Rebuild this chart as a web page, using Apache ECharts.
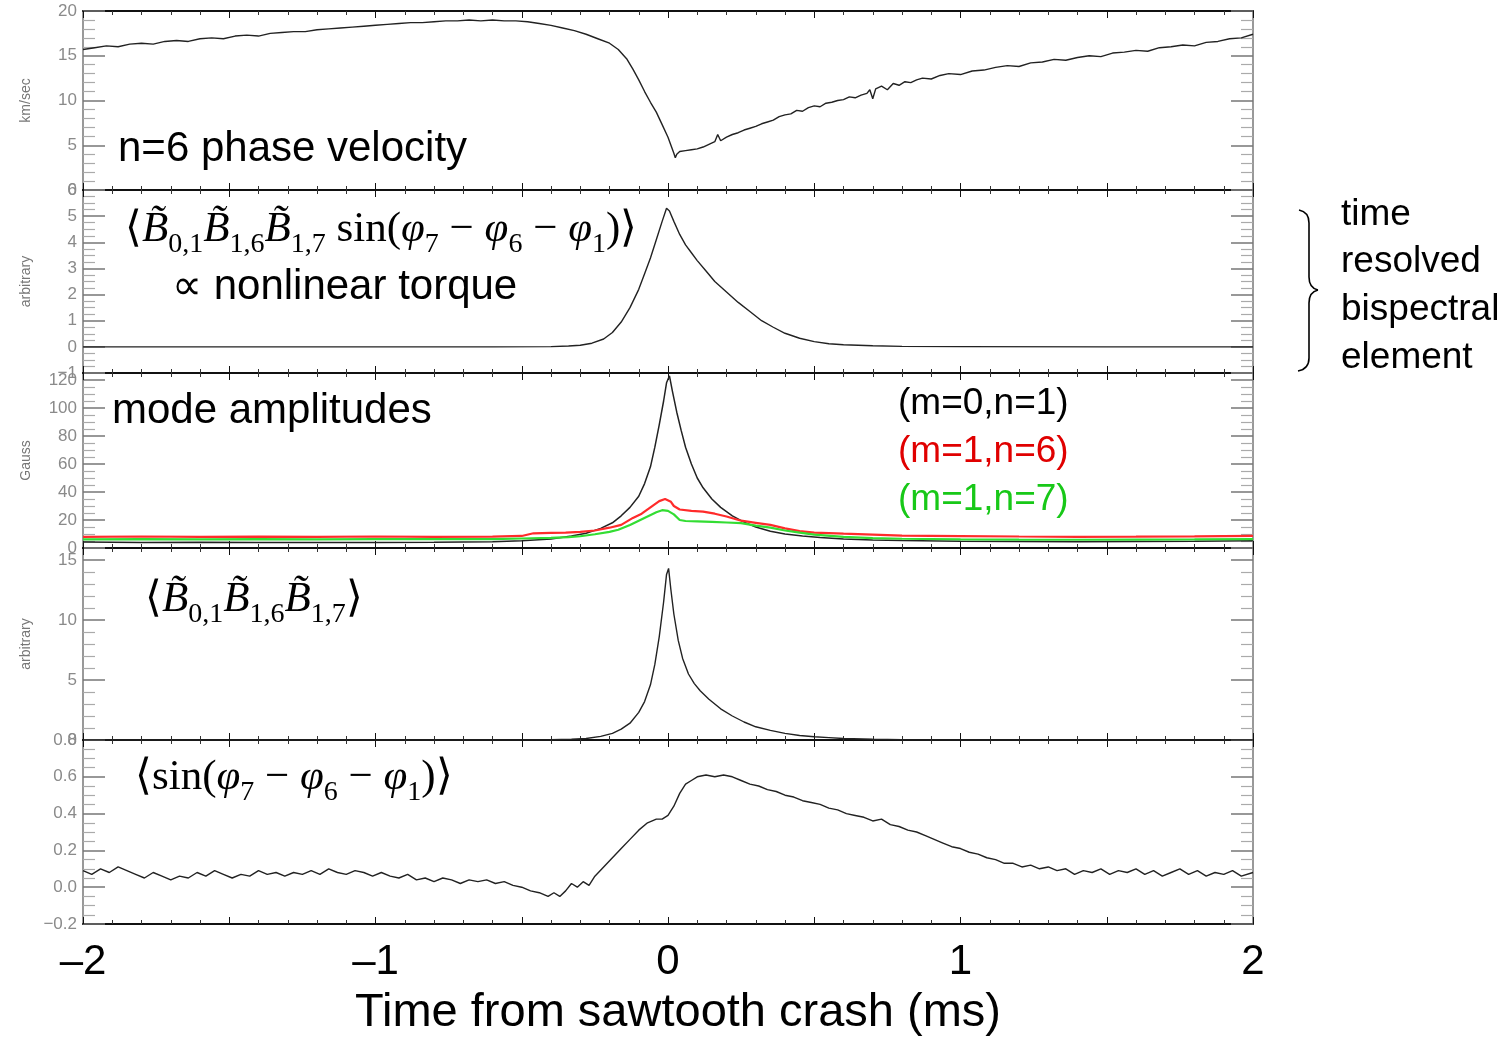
<!DOCTYPE html>
<html>
<head>
<meta charset="utf-8">
<script src="https://cdn.jsdelivr.net/npm/echarts@6/dist/echarts.min.js"></script>
<style>
  html, body { margin: 0; padding: 0; background: #fff; }
  #chart { width: 1511px; height: 1038px; }
</style>
</head>
<body>
<div id="chart"></div>
<script>
// ---- Measured traces, [time (ms), value] ----

// n=6 phase velocity (km/sec)
const phaseVelocity = [
  [-2.00,15.7],[-1.96,15.9],[-1.92,16.1],[-1.88,16.0],[-1.84,16.3],[-1.80,16.4],[-1.76,16.3],[-1.72,16.6],
  [-1.68,16.7],[-1.64,16.6],[-1.60,16.9],[-1.56,17.0],[-1.52,16.9],[-1.48,17.2],[-1.44,17.3],[-1.40,17.2],
  [-1.36,17.5],[-1.32,17.6],[-1.28,17.7],[-1.24,17.7],[-1.20,17.9],[-1.16,18.0],[-1.12,18.1],[-1.08,18.2],
  [-1.04,18.3],[-1.00,18.4],[-0.96,18.5],[-0.92,18.6],[-0.88,18.7],[-0.84,18.7],[-0.80,18.8],[-0.76,18.9],
  [-0.72,18.9],[-0.68,19.0],[-0.64,18.9],[-0.60,19.0],[-0.56,18.9],[-0.52,18.9],[-0.48,18.8],[-0.44,18.6],
  [-0.40,18.4],[-0.36,18.1],[-0.32,17.8],[-0.28,17.4],[-0.24,16.9],[-0.20,16.4],[-0.17,15.7],[-0.14,14.6],
  [-0.12,13.5],[-0.10,12.3],[-0.08,11.0],[-0.06,9.8],[-0.04,8.7],[-0.02,7.3],[0.00,5.9],[0.01,5.0],
  [0.02,4.1],[0.025,3.6],[0.03,4.0],[0.04,4.3],[0.06,4.4],[0.08,4.5],[0.10,4.6],[0.12,4.8],[0.14,5.1],
  [0.16,5.4],[0.17,6.2],[0.18,5.5],[0.20,5.9],[0.22,6.2],[0.24,6.4],[0.26,6.7],[0.28,6.9],[0.30,7.1],
  [0.32,7.4],[0.34,7.6],[0.36,7.8],[0.38,8.2],[0.40,8.4],[0.42,8.5],[0.44,8.9],[0.46,8.8],[0.48,9.2],
  [0.50,9.4],[0.52,9.3],[0.54,9.7],[0.56,9.8],[0.58,10.0],[0.60,10.1],[0.62,10.4],[0.64,10.3],[0.66,10.6],
  [0.68,10.8],[0.69,11.2],[0.70,10.2],[0.71,11.3],[0.73,11.6],[0.75,11.2],[0.77,11.9],[0.79,11.7],
  [0.81,12.1],[0.83,12.0],[0.85,12.3],[0.87,12.5],[0.90,12.4],[0.93,12.8],[0.96,13.0],[1.00,12.9],
  [1.04,13.3],[1.08,13.4],[1.12,13.7],[1.16,13.9],[1.20,13.8],[1.24,14.2],[1.28,14.3],[1.32,14.6],
  [1.36,14.5],[1.40,14.8],[1.44,15.0],[1.48,14.9],[1.52,15.3],[1.56,15.4],[1.60,15.6],[1.64,15.5],
  [1.68,15.9],[1.72,16.0],[1.76,16.2],[1.80,16.1],[1.84,16.5],[1.88,16.6],[1.92,16.9],[1.96,17.0],[2.00,17.4]
];

// <B01 B16 B17 sin(phi7 - phi6 - phi1)>, arbitrary units
const nonlinearTorque = [
  [-2.0,0.0],[-1.5,0.0],[-1.0,0.0],[-0.6,0.0],[-0.4,0.01],[-0.34,0.03],[-0.30,0.06],[-0.26,0.14],
  [-0.22,0.3],[-0.19,0.55],[-0.16,0.95],[-0.13,1.5],[-0.10,2.2],[-0.08,2.8],[-0.06,3.4],[-0.04,4.1],
  [-0.02,4.8],[-0.005,5.3],[0.005,5.2],[0.02,4.8],[0.04,4.3],[0.06,3.9],[0.08,3.6],[0.10,3.3],
  [0.13,2.9],[0.16,2.5],[0.20,2.1],[0.24,1.7],[0.28,1.35],[0.32,1.0],[0.36,0.75],[0.40,0.52],
  [0.45,0.33],[0.50,0.2],[0.55,0.12],[0.60,0.08],[0.70,0.04],[0.80,0.02],[1.0,0.01],[1.5,0.0],[2.0,0.0]
];

// mode amplitudes (Gauss)
const ampM0N1 = [
  [-2.0,4.2],[-1.8,4.0],[-1.6,4.1],[-1.4,3.9],[-1.2,4.0],[-1.0,4.0],[-0.8,4.1],[-0.6,4.5],[-0.5,5.2],
  [-0.4,6.5],[-0.33,8.5],[-0.28,10.5],[-0.23,14],[-0.19,18],[-0.16,23],[-0.13,29],[-0.10,37],[-0.08,46],
  [-0.06,58],[-0.045,72],[-0.03,88],[-0.015,105],[-0.005,118],[0.005,123],[0.015,112],[0.03,97],
  [0.045,84],[0.06,72],[0.08,60],[0.10,50],[0.12,43],[0.15,35],[0.18,29],[0.22,23],[0.26,18.5],
  [0.30,15],[0.35,12],[0.40,10],[0.46,8.5],[0.52,7.5],[0.6,6.5],[0.7,5.8],[0.8,5.3],[1.0,4.8],
  [1.2,4.6],[1.4,4.5],[1.6,4.6],[1.8,4.8],[2.0,5.2]
];
const ampM1N6 = [
  [-2.0,8.0],[-1.8,8.2],[-1.6,7.9],[-1.4,8.1],[-1.2,8.0],[-1.0,8.2],[-0.8,8.0],[-0.6,8.1],[-0.5,8.6],
  [-0.46,10.5],[-0.4,10.8],[-0.35,11.0],[-0.3,11.5],[-0.25,12.5],[-0.2,14.5],[-0.16,16.5],[-0.12,21.5],
  [-0.09,24.5],[-0.06,29],[-0.03,33.5],[-0.01,35],[0.01,33],[0.02,30],[0.04,27.5],[0.08,26.5],
  [0.12,26],[0.16,24.5],[0.2,22.5],[0.25,19.5],[0.3,18],[0.35,16.5],[0.4,14],[0.45,12],[0.5,11],
  [0.6,10.2],[0.7,9.5],[0.8,8.8],[1.0,8.5],[1.2,8.2],[1.4,8.0],[1.6,8.1],[1.8,8.3],[2.0,8.6]
];
const ampM1N7 = [
  [-2.0,6.2],[-1.8,6.4],[-1.6,6.1],[-1.4,6.3],[-1.2,6.2],[-1.0,6.4],[-0.8,6.3],[-0.6,6.4],[-0.5,6.8],
  [-0.4,7.2],[-0.34,7.8],[-0.3,8.4],[-0.25,9.8],[-0.2,11.5],[-0.17,13],[-0.13,16.5],[-0.1,19.5],
  [-0.07,22.5],[-0.04,25.5],[-0.02,27],[0.0,26.5],[0.02,24],[0.04,20],[0.06,19.3],[0.1,19],[0.15,18.6],
  [0.2,18.2],[0.25,17.8],[0.3,16],[0.35,14.5],[0.4,12.5],[0.45,11],[0.5,9.5],[0.6,8],[0.7,7],[0.8,6.6],
  [1.0,6.2],[1.2,6.0],[1.4,5.9],[1.6,6.0],[1.8,6.1],[2.0,6.3]
];

// <B01 B16 B17>, arbitrary units
const tripleProduct = [
  [-2.0,0.0],[-1.0,0.0],[-0.5,0.0],[-0.4,0.02],[-0.33,0.06],[-0.28,0.12],[-0.23,0.3],[-0.19,0.55],
  [-0.16,0.9],[-0.13,1.4],[-0.10,2.3],[-0.08,3.2],[-0.06,4.6],[-0.045,6.3],[-0.03,8.6],[-0.015,11.5],
  [-0.005,13.8],[0.002,14.3],[0.01,12.5],[0.02,10.5],[0.035,8.3],[0.05,6.8],[0.07,5.5],[0.09,4.7],
  [0.11,4.1],[0.14,3.4],[0.18,2.6],[0.22,2.0],[0.26,1.5],[0.30,1.1],[0.35,0.8],[0.40,0.55],
  [0.45,0.38],[0.50,0.27],[0.55,0.2],[0.60,0.13],[0.70,0.06],[0.80,0.02],[1.0,0.0],[2.0,0.0]
];

// <sin(phi7 - phi6 - phi1)>
const sinPhase = [
  [-2.00,0.09],[-1.97,0.07],[-1.94,0.10],[-1.91,0.08],[-1.88,0.11],[-1.85,0.09],[-1.82,0.07],[-1.79,0.05],
  [-1.76,0.08],[-1.73,0.06],[-1.70,0.04],[-1.67,0.06],[-1.64,0.05],[-1.61,0.08],[-1.58,0.06],[-1.55,0.09],
  [-1.52,0.07],[-1.49,0.05],[-1.46,0.07],[-1.43,0.06],[-1.40,0.09],[-1.37,0.07],[-1.34,0.08],[-1.31,0.06],
  [-1.28,0.08],[-1.25,0.07],[-1.22,0.09],[-1.19,0.07],[-1.16,0.10],[-1.13,0.08],[-1.10,0.07],[-1.07,0.09],
  [-1.04,0.08],[-1.01,0.06],[-0.98,0.08],[-0.95,0.06],[-0.92,0.05],[-0.89,0.07],[-0.86,0.04],[-0.83,0.05],
  [-0.80,0.03],[-0.77,0.05],[-0.74,0.04],[-0.71,0.02],[-0.68,0.04],[-0.65,0.03],[-0.62,0.04],[-0.59,0.02],
  [-0.56,0.03],[-0.53,0.01],[-0.50,0.0],[-0.47,-0.02],[-0.44,-0.03],[-0.41,-0.05],[-0.39,-0.03],[-0.37,-0.05],
  [-0.35,-0.02],[-0.33,0.02],[-0.31,0.0],[-0.29,0.03],[-0.27,0.01],[-0.25,0.06],[-0.22,0.11],[-0.19,0.16],
  [-0.16,0.21],[-0.13,0.26],[-0.10,0.31],[-0.07,0.35],[-0.04,0.37],[-0.02,0.37],[0.00,0.39],[0.02,0.44],
  [0.04,0.51],[0.06,0.56],[0.08,0.58],[0.10,0.60],[0.13,0.61],[0.16,0.60],[0.19,0.61],[0.22,0.60],
  [0.25,0.58],[0.28,0.56],[0.31,0.55],[0.34,0.53],[0.37,0.52],[0.40,0.50],[0.43,0.49],[0.46,0.47],
  [0.49,0.46],[0.52,0.45],[0.55,0.43],[0.58,0.42],[0.61,0.40],[0.64,0.39],[0.67,0.38],[0.70,0.36],
  [0.73,0.37],[0.76,0.34],[0.79,0.33],[0.82,0.31],[0.85,0.30],[0.88,0.28],[0.91,0.26],[0.94,0.24],
  [0.97,0.22],[1.00,0.21],[1.03,0.19],[1.06,0.18],[1.09,0.16],[1.12,0.15],[1.15,0.13],[1.18,0.13],
  [1.21,0.11],[1.24,0.12],[1.27,0.10],[1.30,0.11],[1.33,0.09],[1.36,0.10],[1.39,0.07],[1.42,0.09],
  [1.45,0.08],[1.48,0.10],[1.51,0.07],[1.54,0.09],[1.57,0.08],[1.60,0.10],[1.63,0.07],[1.66,0.09],
  [1.69,0.06],[1.72,0.08],[1.75,0.10],[1.78,0.07],[1.81,0.09],[1.84,0.06],[1.87,0.08],[1.90,0.07],
  [1.93,0.09],[1.96,0.06],[2.00,0.08]
];

// ---- Axis descriptions for the five stacked panels ----
const timeRange = [-2, 2];
const panelAxes = [
  { min: 0,    max: 20,  interval: 5,   minor: 5, name: 'km/sec' },
  { min: -1,   max: 6,   interval: 1,   minor: 4, name: 'arbitrary' },
  { min: 0,    max: 125, interval: 20,  minor: 4, name: 'Gauss' },
  { min: 0,    max: 16,  interval: 5,   minor: 5, name: 'arbitrary' },
  { min: -0.2, max: 0.8, interval: 0.2, minor: 4, name: '' }
];
const MINUS = '\u2212';
const yLabelFormat = [
  v => (v % 5 === 0 ? String(v) : ''),
  v => (v < 0 ? MINUS + (-v) : String(v)),
  v => (v % 20 === 0 ? String(v) : ''),
  v => (v % 5 === 0 ? String(v) : ''),
  v => { const s = Math.abs(v).toFixed(1); return v < -1e-9 ? MINUS + s : s; }
];

// ---- Layout ----
const PLOT_LEFT = 83, PLOT_RIGHT = 1253, PAGE_W = 1511;
const bands = [[11, 190], [190, 373], [373, 548], [548, 740], [740, 924]];
const SANS = 'Liberation Sans';
const SERIF = 'Liberation Serif';

const grids = bands.map(([t, b]) => ({
  left: PLOT_LEFT, right: PAGE_W - PLOT_RIGHT, top: t, height: b - t,
  containLabel: false, outerBoundsMode: 'none'
}));

const xAxes = [];
const yAxes = [];
bands.forEach((_, i) => {
  ['bottom', 'top'].forEach(pos => {
    const isLabelled = (i === 4 && pos === 'bottom');
    xAxes.push({
      gridIndex: i, type: 'value', position: pos,
      min: timeRange[0], max: timeRange[1], interval: 0.5,
      axisLine: { show: true, onZero: false, lineStyle: { color: '#111', width: 2 } },
      axisTick: { show: true, inside: true, length: 7, lineStyle: { color: '#111', width: 1 } },
      minorTick: { show: true, splitNumber: 5, length: 4, lineStyle: { color: '#333', width: 1 } },
      splitLine: { show: false }, minorSplitLine: { show: false },
      axisLabel: {
        show: isLabelled, margin: 17, fontSize: 42, color: '#000', fontFamily: SANS,
        formatter: v => (Number.isInteger(v) ? (v < 0 ? '\u2013' + (-v) : String(v)) : '')
      }
    });
  });
  const a = panelAxes[i];
  ['left', 'right'].forEach(pos => {
    const isLeft = pos === 'left';
    yAxes.push({
      gridIndex: i, type: 'value', position: pos,
      min: a.min, max: a.max, interval: a.interval,
      name: isLeft ? a.name : '', nameLocation: 'middle', nameGap: 50, nameRotate: 90,
      nameTextStyle: { fontSize: 14, color: '#777', fontFamily: SANS },
      axisLine: { show: true, onZero: false, lineStyle: { color: '#999', width: 2 } },
      axisTick: { show: true, inside: true, length: 22, lineStyle: { color: '#777', width: 1.5 } },
      minorTick: { show: true, splitNumber: a.minor, length: 12, lineStyle: { color: '#aaa', width: 1.2 } },
      splitLine: { show: false }, minorSplitLine: { show: false },
      axisLabel: {
        show: isLeft, margin: 6, fontSize: 17, color: '#8a8a8a', fontFamily: SANS,
        formatter: yLabelFormat[i]
      }
    });
  });
});

function trace(panel, data, color, width) {
  return {
    type: 'line', xAxisIndex: panel * 2, yAxisIndex: panel * 2, data,
    showSymbol: false, symbol: 'none', silent: true, animation: false, z: 3,
    lineStyle: { color, width }, itemStyle: { color }
  };
}

const series = [
  trace(0, phaseVelocity, '#222', 1.4),
  trace(1, nonlinearTorque, '#222', 1.4),
  trace(2, ampM0N1, '#222', 1.5),
  trace(2, ampM1N6, '#ff2b2b', 2.2),
  trace(2, ampM1N7, '#33dd33', 2.2),
  trace(3, tripleProduct, '#222', 1.4),
  trace(4, sinPhase, '#222', 1.4)
];

// ---- Typeset formulas: tokens laid out left to right on a shared baseline ----
const measureCtx = document.createElement('canvas').getContext('2d');
function mathLine(tokens, x0, baseline, size) {
  const subSize = Math.round(size * 0.66);
  const kinds = {
    n: { font: size + 'px "' + SERIF + '"', size: size, dy: 0 },
    i: { font: 'italic ' + size + 'px "' + SERIF + '"', size: size, dy: 0 },
    s: { font: subSize + 'px "' + SERIF + '"', size: subSize, dy: Math.round(size * 0.24) }
  };
  const els = [];
  let x = x0;
  tokens.forEach(([txt, kind]) => {
    const k = kinds[kind];
    measureCtx.font = k.font;
    const w = measureCtx.measureText(txt).width;
    els.push({
      type: 'text', x: x, y: baseline + k.dy - 0.31 * k.size, silent: true,
      style: { text: txt, font: k.font, fill: '#000', textAlign: 'left', textVerticalAlign: 'middle', align: 'left', verticalAlign: 'middle' }
    });
    x += w;
  });
  return els;
}
function label(text, x, y, size, color) {
  return {
    type: 'text', x: x, y: y, silent: true,
    style: { text: text, font: size + 'px "' + SANS + '"', fill: color || '#000',
             textAlign: 'left', textVerticalAlign: 'middle', align: 'left', verticalAlign: 'middle' }
  };
}
function stroke(el) {
  el.silent = true;
  el.style = { stroke: '#000', fill: 'none', lineWidth: 1.6 };
  return el;
}
const Bt = 'B\u0303';
const torqueFormula = [
  ['\u27E8', 'n'], [Bt, 'i'], ['0,1', 's'], [Bt, 'i'], ['1,6', 's'], [Bt, 'i'], ['1,7', 's'],
  [' sin(', 'n'], ['\u03C6', 'i'], ['7', 's'], [' ' + MINUS + ' ', 'n'], ['\u03C6', 'i'], ['6', 's'],
  [' ' + MINUS + ' ', 'n'], ['\u03C6', 'i'], ['1', 's'], [')\u27E9', 'n']
];
const tripleFormula = [
  ['\u27E8', 'n'], [Bt, 'i'], ['0,1', 's'], [Bt, 'i'], ['1,6', 's'], [Bt, 'i'], ['1,7', 's'], ['\u27E9', 'n']
];
const phaseFormula = [
  ['\u27E8sin(', 'n'], ['\u03C6', 'i'], ['7', 's'], [' ' + MINUS + ' ', 'n'], ['\u03C6', 'i'], ['6', 's'],
  [' ' + MINUS + ' ', 'n'], ['\u03C6', 'i'], ['1', 's'], [')\u27E9', 'n']
];

// curly brace grouping the two bispectral panels
const brace = [
  stroke({ type: 'bezierCurve', shape: { x1: 1299, y1: 210, cpx1: 1309, cpy1: 212, x2: 1309, y2: 223 } }),
  stroke({ type: 'line', shape: { x1: 1309, y1: 223, x2: 1309, y2: 277 } }),
  stroke({ type: 'bezierCurve', shape: { x1: 1309, y1: 277, cpx1: 1309, cpy1: 288, x2: 1318, y2: 290 } }),
  stroke({ type: 'bezierCurve', shape: { x1: 1318, y1: 290, cpx1: 1309, cpy1: 292, x2: 1309, y2: 303 } }),
  stroke({ type: 'line', shape: { x1: 1309, y1: 303, x2: 1309, y2: 358 } }),
  stroke({ type: 'bezierCurve', shape: { x1: 1309, y1: 358, cpx1: 1309, cpy1: 369, x2: 1298, y2: 371 } })
];

const graphics = [].concat(
  [label('n=6 phase velocity', 118, 149, 42)],
  mathLine(torqueFormula, 125, 243, 43),
  [label('\u221D nonlinear torque', 172, 287, 42)],
  [label('mode amplitudes', 112, 411, 42)],
  [label('(m=0,n=1)', 898, 404, 37, '#000'),
   label('(m=1,n=6)', 898, 452, 37, '#e00000'),
   label('(m=1,n=7)', 898, 500, 37, '#18c818')],
  mathLine(tripleFormula, 145, 613, 43),
  mathLine(phaseFormula, 135, 791, 43),
  [label('time', 1341, 215, 37), label('resolved', 1341, 262, 37),
   label('bispectral', 1341, 310, 37), label('element', 1341, 358, 37)],
  brace,
  [{
    type: 'text', x: 678, y: 1013, silent: true,
    style: { text: 'Time from sawtooth crash (ms)', font: '47px "' + SANS + '"', fill: '#000',
             textAlign: 'center', textVerticalAlign: 'middle', align: 'center', verticalAlign: 'middle' }
  }]
);

const chart = echarts.init(document.getElementById('chart'), null, { renderer: 'canvas' });
chart.setOption({
  backgroundColor: '#fff',
  animation: false,
  textStyle: { fontFamily: SANS },
  grid: grids,
  xAxis: xAxes,
  yAxis: yAxes,
  series: series,
  graphic: { elements: graphics }
});
</script>
</body>
</html>
